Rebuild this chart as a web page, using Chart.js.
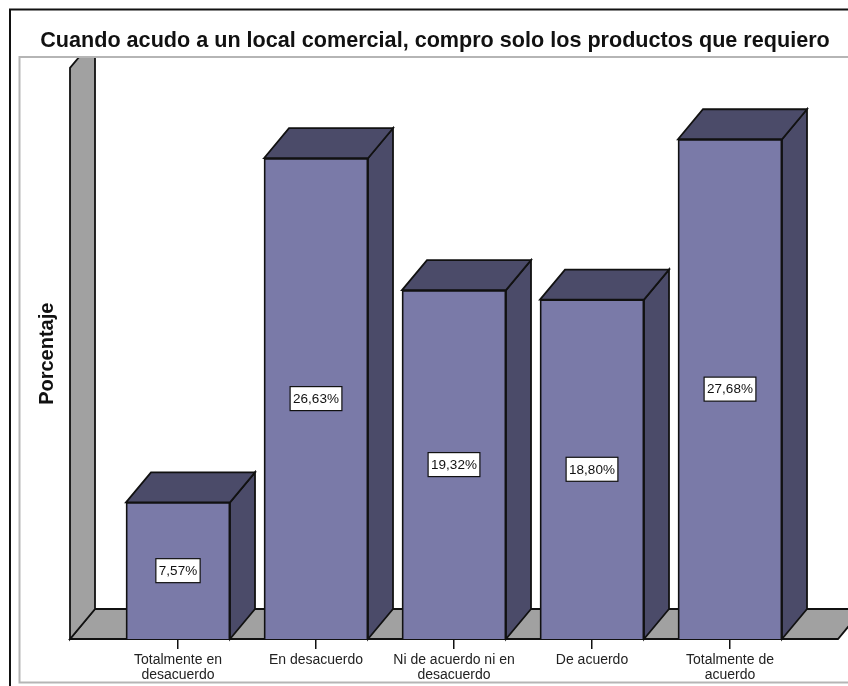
<!DOCTYPE html>
<html><head><meta charset="utf-8">
<style>html,body{margin:0;padding:0;background:#fff}canvas{display:block}</style>
<script src="https://cdn.jsdelivr.net/npm/chart.js@4/dist/chart.umd.js"></script>
</head><body>
<div style="width:848px;height:686px"><canvas id="c" width="848" height="686"></canvas></div>
<script>
const titleText = "Cuando acudo a un local comercial, compro solo los productos que requiero";
const yTitle = "Porcentaje";
const categories = [["Totalmente en","desacuerdo"],"En desacuerdo",["Ni de acuerdo ni en","desacuerdo"],"De acuerdo",["Totalmente de","acuerdo"]];
const values = [7.57,26.63,19.32,18.80,27.68];
const valueLabels = ["7,57%","26,63%","19,32%","18,80%","27,68%"];
const FONT = '"Liberation Sans", Arial, sans-serif';
const DX = 25, DY = 30;
const FRONT = '#7a7aa8', DARK = '#4b4b69', GRAY = '#a1a1a1', LINE = '#111';

function poly(ctx, pts, fill, stroke, lw){
  ctx.beginPath();
  pts.forEach((p,i)=> i? ctx.lineTo(p[0],p[1]) : ctx.moveTo(p[0],p[1]));
  ctx.closePath();
  if(fill){ctx.fillStyle=fill;ctx.fill();}
  if(stroke){ctx.strokeStyle=stroke;ctx.lineWidth=lw||1.8;ctx.lineJoin='miter';ctx.stroke();}
}
const frame3d = {
  id:'frame3d',
  beforeDraw(chart){
    const {ctx} = chart;
    ctx.save();
    ctx.strokeStyle='#111';ctx.lineWidth=2;
    ctx.beginPath();ctx.moveTo(10,chart.height);ctx.lineTo(10,9.5);ctx.lineTo(chart.width,9.5);ctx.stroke();
    ctx.strokeStyle='#b5b5b5';ctx.lineWidth=2;
    ctx.beginPath();ctx.moveTo(chart.width,57);ctx.lineTo(19.5,57);ctx.lineTo(19.5,682.5);ctx.lineTo(chart.width,682.5);ctx.stroke();
    ctx.restore();
  },
  beforeDatasetsDraw(chart){
    const {ctx,chartArea:a} = chart;
    const left=a.left-39, right=a.right+39, bottom=a.bottom, backY=bottom-DY;
    ctx.save();
    ctx.beginPath();ctx.rect(0,a.top+1,chart.width,chart.height-a.top);ctx.clip();
    poly(ctx,[[left,bottom],[left+DX,backY],[right+DX,backY],[right,bottom]],GRAY,LINE);
    poly(ctx,[[left,a.top+11],[left+DX,a.top+11-DY],[left+DX,backY],[left,bottom]],GRAY,LINE);
    const meta=chart.getDatasetMeta(0);
    meta.data.forEach(b=>{
      const h=b.width/2, x0=b.x-h, x1=b.x+h, t=b.y, base=b.base;
      poly(ctx,[[x1,base],[x1+DX,base-DY],[x1+DX,t-DY],[x1,t]],DARK,LINE);
      poly(ctx,[[x0,t],[x0+DX,t-DY],[x1+DX,t-DY],[x1,t]],DARK,LINE);
    });
    ctx.restore();
  },
  afterDatasetsDraw(chart){
    const {ctx} = chart;
    const meta=chart.getDatasetMeta(0);
    ctx.save();
    ctx.font='13.5px '+FONT;ctx.textAlign='center';ctx.textBaseline='middle';
    meta.data.forEach((b,i)=>{
      const cy=(b.y+b.base)/2, w=ctx.measureText(valueLabels[i]).width+6, h=24;
      ctx.fillStyle='#fff';ctx.strokeStyle='#111';ctx.lineWidth=1.2;
      ctx.fillRect(b.x-w/2,cy-h/2,w,h);ctx.strokeRect(b.x-w/2,cy-h/2,w,h);
      ctx.fillStyle='#111';ctx.fillText(valueLabels[i],b.x,cy+0.5);
    });
    // axis title, placed against the value scale
    ctx.translate(47,chart.scales.y.getPixelForValue(15.8));
    ctx.rotate(-Math.PI/2);
    ctx.font='bold 20px '+FONT;ctx.fillStyle='#111';
    ctx.fillText(yTitle,0,0);
    ctx.restore();
  }
};
new Chart(document.getElementById('c'),{
  type:'bar',
  data:{labels:categories,datasets:[{data:values,backgroundColor:FRONT,borderColor:LINE,borderWidth:1.8,barThickness:104}]},
  plugins:[frame3d],
  options:{
    responsive:false,animation:false,
    layout:{padding:{left:22,right:0,top:0,bottom:0}},
    plugins:{
      legend:{display:false},tooltip:{enabled:false},
      title:{display:true,text:titleText,color:'#111',font:{family:FONT,size:21.6,weight:'bold',lineHeight:1.2},padding:{top:28,bottom:3}}
    },
    scales:{
      x:{offset:true,
        grid:{display:true,offset:false,drawOnChartArea:false,drawTicks:true,tickLength:10,color:'#111',lineWidth:1.5},
        border:{display:false},
        ticks:{color:'#222',font:{family:FONT,size:14,lineHeight:1.07},maxRotation:0,minRotation:0,autoSkip:false,padding:4},
        afterFit(s){s.height=47;}
      },
      y:{min:0,max:32.24,position:'left',
        grid:{display:false},border:{display:false},ticks:{display:false},
        afterFit(s){s.width=87;}
      },
      yr:{min:0,max:1,position:'right',display:true,
        grid:{display:false},border:{display:false},ticks:{display:false},
        afterFit(s){s.width=49;}
      }
    }
  }
});
</script>
</body></html>
